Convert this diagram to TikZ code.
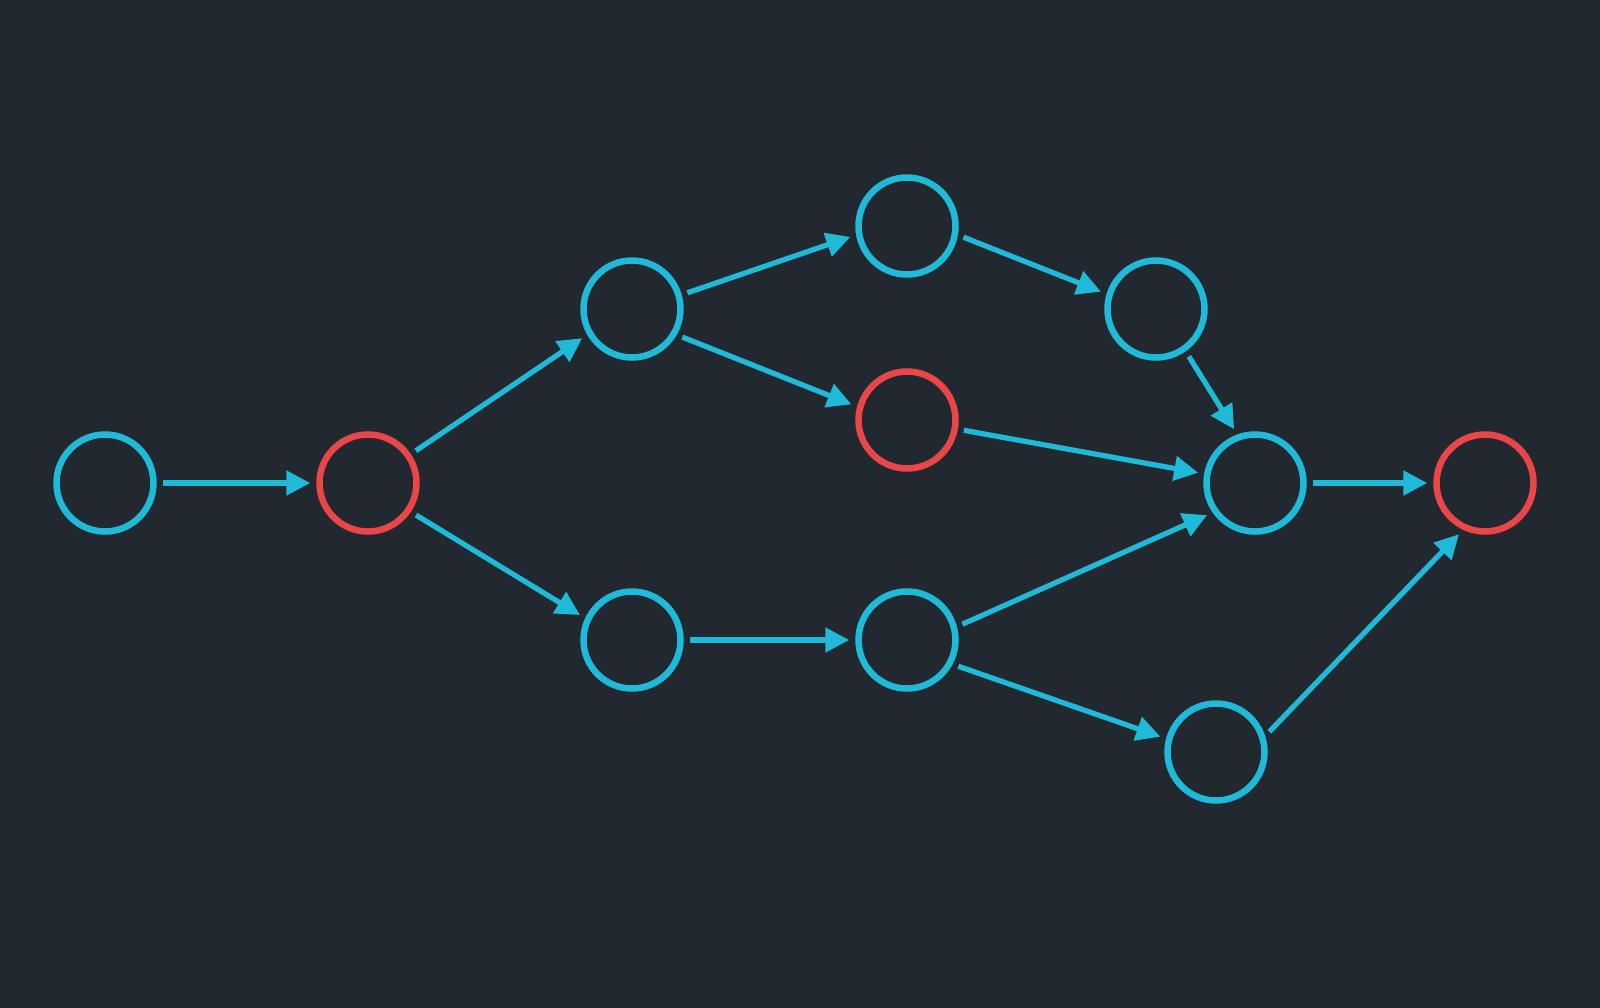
\documentclass[tikz,border=0pt]{standalone}
\usetikzlibrary{arrows.meta}
\definecolor{bgdark}{RGB}{33,40,48}
\definecolor{netcyan}{RGB}{30,186,216}
\definecolor{netred}{RGB}{234,70,72}

\begin{document}
\begin{tikzpicture}[x=0.02cm,y=-0.02cm,->,>={Triangle[length=0.48cm,width=0.48cm]},
                    shorten <=0.12cm,shorten >=0.12cm,line width=0.105cm,color=netcyan]
  \tikzstyle{place}=[circle,draw=netcyan,line width=0.13cm,minimum size=1.94cm,inner sep=0pt]
  \tikzstyle{redplace}=[place,draw=netred]

  \path[fill=bgdark] (0,0) rectangle (1600,1008);

  \node[place]    (A) at (105,483)  {};
  \node[redplace] (B) at (368,483)  {};
  \node[place]    (C) at (632,309)  {};
  \node[place]    (D) at (632,640)  {};
  \node[place]    (E) at (907,226)  {};
  \node[redplace] (F) at (907,420)  {};
  \node[place]    (G) at (907,640)  {};
  \node[place]    (H) at (1156,309) {};
  \node[place]    (I) at (1255,483) {};
  \node[place]    (J) at (1216,752) {};
  \node[redplace] (K) at (1485,483) {};

  \path
(A) edge (B)
(B.34) edge (C.210)
(B.-34) edge (D.155)
(C.16) edge (E.190)
(C.-30) edge (F.165)
(E.-10) edge (H.163)
(H.-55) edge (I.110)
(F) edge (I)
(D) edge (G)
(G.15) edge (I.215)
(G.-28) edge (J.165)
(I) edge (K)
(J.18) edge (K.245);
\end{tikzpicture}
\end{document}
